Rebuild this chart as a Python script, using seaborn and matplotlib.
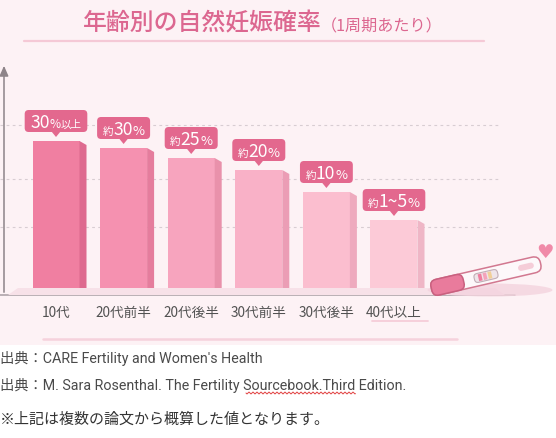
import numpy as np
import pandas as pd
import matplotlib
matplotlib.use("Agg")
import matplotlib.pyplot as plt
import seaborn as sns
from matplotlib.patches import FancyBboxPatch, Polygon, Rectangle, Ellipse
from matplotlib.lines import Line2D
from matplotlib.transforms import Affine2D

# ---------------- data ----------------
categories = ["10代", "20代前半", "20代後半", "30代前半", "30代後半", "40代以上"]
bar_heights = [154, 147, 137, 125, 103, 75]          # visual bar heights
label_prefix = ["", "約", "約", "約", "約", "約"]
label_number = ["30", "30", "25", "20", "10", "1~5"]
label_suffix = ["%以上", "%", "%", "%", "%", "%"]
grid_levels = [68, 116, 170]
bar_colors = ["#f07fa1", "#f591b0", "#f7a4be", "#f9b1c7", "#fbbecf", "#fccad7"]
side_colors = ["#de6a8f", "#e57d9d", "#e991ab", "#eb9db5", "#eeaabe", "#efb6c6"]
title_main = "年齢別の自然妊娠確率"
title_sub = "（1周期あたり）"
source_lines = ["出典：CARE Fertility and Women's Health",
                "出典：M. Sara Rosenthal. The Fertility Sourcebook.Third Edition."]
note_line = "※上記は複数の論文から概算した値となります。"

# ---------------- figure ----------------
W, H = 556, 439
sns.set_theme(style="white")
plt.rcParams["font.family"] = ["Noto Sans CJK JP", "DejaVu Sans"]
fig = plt.figure(figsize=(W / 100, H / 100), dpi=100)
fig.patch.set_facecolor("white")
px = Affine2D().scale(1 / W, -1 / H).translate(0, 1) + fig.transFigure

PINK = "#e3688e"
TITLE_PINK = "#dc6790"

# pink background panel
fig.add_artist(Rectangle((0, 0), W, 346, transform=px, facecolor="#fdf2f5",
                         edgecolor="none", zorder=0))

# title
renderer = fig.canvas.get_renderer()
t_main = fig.text(83, 30, title_main, transform=px, fontsize=17.2, color=TITLE_PINK,
                  fontweight="medium", ha="left", va="baseline", zorder=5)
wmain = t_main.get_window_extent(renderer).width
fig.text(83 + wmain - 1, 30, title_sub, transform=px, fontsize=11.6, color=TITLE_PINK,
         ha="left", va="baseline", zorder=5)
fig.add_artist(Line2D([24, 484], [42, 42], transform=px, color="#f5c9d6", lw=1.6, zorder=2))

# ---------------- bar axes ----------------
unit = 67.6
x_left = -52 / unit
ax = fig.add_axes([4 / W, (H - 296) / H, 496 / W, 232 / H])
ax.patch.set_alpha(0)
for s in ax.spines.values():
    s.set_visible(False)

df = pd.DataFrame({"cat": categories, "h": bar_heights})
sns.barplot(data=df, x="cat", y="h", hue="cat", palette=bar_colors, width=47 / unit,
            saturation=1, legend=False, ax=ax, zorder=3, edgecolor="none")
ax.set_xlim(x_left, x_left + 496 / unit)
ax.set_ylim(0, 232)

# grid lines, baseline, arrow axis
for g in grid_levels:
    ax.axhline(g, xmin=-4 / 496, xmax=1, color="#d8cdd2", lw=0.8, ls=(0, (2.5, 3)),
               zorder=1, clip_on=False)
ax.axhline(0, xmin=-4 / 496, xmax=511 / 496, color="#a89ea3", lw=1.1, zorder=4, clip_on=False)
ax.annotate("", xy=(0, 1), xytext=(0, 0), xycoords="axes fraction",
            arrowprops=dict(arrowstyle="-|>,head_length=0.5,head_width=0.22",
                            color="#8e8489", lw=1.1), zorder=4)

ax.set_xlabel("")
ax.set_ylabel("")
ax.set_yticks([])
ax.tick_params(axis="x", length=0, pad=7.5, labelsize=9.8, labelcolor="#525252")

# floor shadow
fig.add_artist(Polygon([(8, 296), (505, 296), (495, 289), (18, 289)], closed=True,
                       transform=px, facecolor="#f7e1e8", edgecolor="none", zorder=1))

# side faces + callouts
patches = sorted(ax.patches, key=lambda p: p.get_x())
dx = 7 / unit
for i, p in enumerate(patches):
    x, w, h = p.get_x(), p.get_width(), p.get_height()
    ax.add_patch(Polygon([(x + w, h), (x + w + dx, h - 4), (x + w + dx, 0), (x + w, 0)],
                         closed=True, facecolor=side_colors[i], edgecolor="none", zorder=3))
    # callout position in reference pixels
    disp = ax.transData.transform((x + w / 2, h))
    cx, top = px.inverted().transform(disp)
    pieces = []
    if label_prefix[i]:
        pieces.append((label_prefix[i], 7.6))
    pieces.append((label_number[i], 12.6))
    if label_suffix[i] == "%":
        pieces.append(("%", 9.4))
    else:
        pieces.append(("%", 8.6))
        pieces.append(("以上", 7.6))
    widths = []
    for s, fs in pieces:
        tt = fig.text(0, 0, s, fontsize=fs)
        widths.append(tt.get_window_extent(renderer).width)
        tt.remove()
    total = sum(widths)
    bw = total + 11
    bh = 22
    bbot = top - 9
    btop = bbot - bh
    fig.add_artist(FancyBboxPatch((cx - bw / 2, btop), bw, bh,
                                  boxstyle="round,pad=0,rounding_size=4", transform=px,
                                  facecolor=PINK, edgecolor="none", zorder=6))
    fig.add_artist(Polygon([(cx - 4.5, bbot - 0.5), (cx + 4.5, bbot - 0.5), (cx, top - 4)],
                           closed=True, transform=px, facecolor=PINK, edgecolor="none",
                           zorder=6))
    xcur = cx - total / 2
    base = btop + bh / 2 + 6
    for (s, fs), wdt in zip(pieces, widths):
        fig.text(xcur, base, s, transform=px, fontsize=fs, color="white",
                 ha="left", va="baseline", zorder=7)
        xcur += wdt

# underline under the last tick label
fig.add_artist(Line2D([372, 428], [322, 322], transform=px, color="#f6cdd9", lw=1.3, zorder=2))

# ---------------- pregnancy test stick + heart ----------------
stk = Affine2D().rotate_deg(-13).translate(486, 277) + px
fig.add_artist(Ellipse((490, 291), 125, 13, transform=px, facecolor="#f4d3de",
                       edgecolor="none", alpha=0.8, zorder=2))
fig.add_artist(FancyBboxPatch((-56, -8), 112, 16, boxstyle="round,pad=0,rounding_size=7",
                              transform=stk, facecolor="#fdf8fa", edgecolor="#d27890",
                              lw=1.1, zorder=5))
fig.add_artist(FancyBboxPatch((-56, -8), 33, 16, boxstyle="round,pad=0,rounding_size=6",
                              transform=stk, facecolor="#e97b9c", edgecolor="#c9607f",
                              lw=1.1, zorder=6))
fig.add_artist(FancyBboxPatch((-12, -4.5), 24, 9, boxstyle="round,pad=0,rounding_size=3.5",
                              transform=stk, facecolor="#efe5ea", edgecolor="#c2aeb6",
                              lw=0.8, zorder=6))
for u, c in zip([-6, -1, 4], ["#ee7e9f", "#f4a3bb", "#f1cf98"]):
    fig.add_artist(Rectangle((u - 1.8, -3.5), 3.6, 7, transform=stk, facecolor=c,
                             edgecolor="none", zorder=7))
fig.add_artist(FancyBboxPatch((33, -3), 16, 6, boxstyle="round,pad=0,rounding_size=3",
                              transform=stk, facecolor="#f5cdd8", edgecolor="none", zorder=6))
fig.text(545, 253, "♥", transform=px, fontsize=14, color="#f08aa8", family="DejaVu Sans",
         ha="center", va="center", zorder=6)

# ---------------- bottom texts ----------------
fig.add_artist(Line2D([43, 457], [340, 340], transform=px, color="#f6d2dc", lw=1.8, zorder=2))
src_font = ["Roboto", "Noto Sans CJK JP"]
fig.text(0, 359, source_lines[0], transform=px, fontsize=10.3, color="#4a4a4a",
         family=src_font, ha="left", va="center")
fig.text(0, 386, source_lines[1], transform=px, fontsize=10.3, color="#4a4a4a",
         family=src_font, ha="left", va="center")
xs = np.arange(246, 356, 0.5)
fig.add_artist(Line2D(xs, 394 + 0.9 * np.sin((xs - 246) * np.pi / 2), transform=px,
                      color="#e04040", lw=0.7))
fig.text(0, 420, note_line, transform=px, fontsize=10.8, color="#333333",
         family=["Noto Sans CJK JP", "DejaVu Sans"], ha="left", va="center")

fig.savefig("out.png", dpi=100)
